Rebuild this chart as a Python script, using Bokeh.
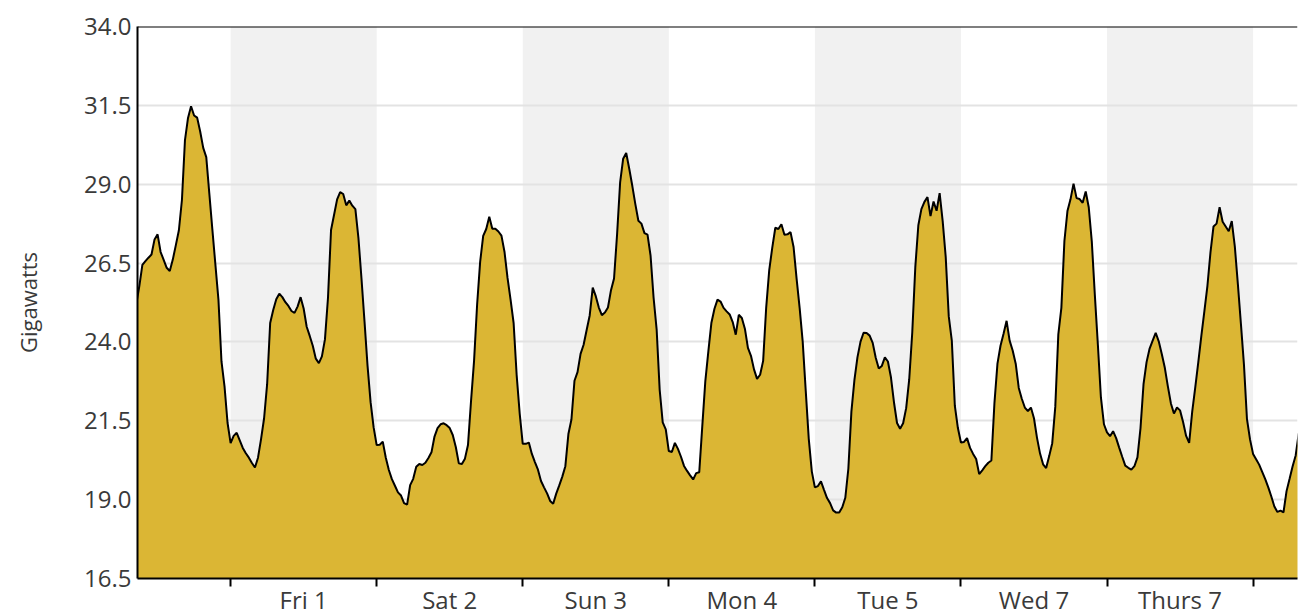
import numpy as np
from bokeh.plotting import figure
from bokeh.models import (FixedTicker, BoxAnnotation, Span, PrintfTickFormatter,
                          Range1d, ColumnDataSource, GlobalInlineStyleSheet)
from bokeh.embed import file_html
from bokeh.resources import INLINE

# ---- data ----
day_labels = ["Fri 1", "Sat 2", "Sun 3", "Mon 4", "Tue 5", "Wed 7", "Thurs 7"]
day_start_hours = [0, 24, 48, 72, 96, 120, 144, 168]
shaded_day_index = [0, 2, 4, 6]
y_ticks = [16.5, 19.0, 21.5, 24.0, 26.5, 29.0, 31.5, 34.0]

first_hour = -15.5   # half-hourly readings, hours from Fri 1 00:00
step_hours = 0.5
gigawatts = [
    25.20, 25.77, 26.44, 26.56, 26.67, 26.77, 27.25, 27.41, 26.85, 26.60,
    26.35, 26.25, 26.61, 27.07, 27.54, 28.50, 30.40, 31.10, 31.47, 31.18,
    31.11, 30.67, 30.15, 29.86, 28.71, 27.57, 26.45, 25.34, 23.38, 22.59,
    21.43, 20.79, 21.02, 21.12, 20.88, 20.64, 20.47, 20.33, 20.16, 20.02,
    20.33, 20.92, 21.58, 22.66, 24.60, 25.01, 25.35, 25.53, 25.42, 25.26,
    25.14, 24.98, 24.92, 25.12, 25.42, 25.06, 24.48, 24.19, 23.88, 23.47,
    23.33, 23.54, 24.08, 25.40, 27.55, 28.03, 28.52, 28.75, 28.69, 28.33,
    28.48, 28.32, 28.21, 27.30, 26.02, 24.65, 23.24, 22.09, 21.29, 20.73,
    20.74, 20.84, 20.33, 19.94, 19.65, 19.44, 19.23, 19.13, 18.89, 18.84,
    19.46, 19.66, 20.04, 20.13, 20.10, 20.17, 20.32, 20.50, 21.00, 21.27,
    21.39, 21.42, 21.36, 21.27, 21.05, 20.67, 20.15, 20.13, 20.30, 20.73,
    22.12, 23.40, 25.18, 26.54, 27.36, 27.58, 27.97, 27.59, 27.59, 27.50,
    27.37, 26.86, 26.03, 25.34, 24.60, 22.95, 21.73, 20.77, 20.77, 20.81,
    20.45, 20.19, 19.95, 19.59, 19.39, 19.20, 18.96, 18.87, 19.19, 19.45,
    19.73, 20.06, 21.08, 21.54, 22.77, 23.04, 23.62, 23.91, 24.38, 24.84,
    25.72, 25.45, 25.09, 24.85, 24.93, 25.09, 25.64, 26.01, 27.41, 29.06,
    29.81, 29.99, 29.49, 28.95, 28.37, 27.84, 27.75, 27.45, 27.40, 26.74,
    25.40, 24.40, 22.48, 21.45, 21.23, 20.54, 20.51, 20.80, 20.61, 20.36,
    20.07, 19.91, 19.77, 19.64, 19.84, 19.87, 21.33, 22.76, 23.71, 24.61,
    25.05, 25.34, 25.28, 25.08, 24.97, 24.87, 24.63, 24.23, 24.86, 24.76,
    24.42, 23.81, 23.56, 23.13, 22.83, 22.96, 23.40, 25.09, 26.28, 26.99,
    27.62, 27.58, 27.73, 27.40, 27.41, 27.48, 27.01, 26.00, 25.07, 24.01,
    22.45, 20.92, 19.89, 19.39, 19.43, 19.58, 19.31, 19.05, 18.89, 18.66,
    18.59, 18.59, 18.76, 19.06, 19.98, 21.79, 22.80, 23.52, 24.01, 24.29,
    24.28, 24.20, 23.97, 23.50, 23.16, 23.24, 23.51, 23.38, 22.88, 22.08,
    21.43, 21.25, 21.42, 21.90, 22.81, 24.30, 26.37, 27.70, 28.21, 28.44,
    28.59, 27.99, 28.45, 28.16, 28.72, 27.83, 26.69, 24.81, 24.04, 21.97,
    21.27, 20.81, 20.83, 20.95, 20.64, 20.45, 20.29, 19.81, 19.93, 20.06,
    20.17, 20.24, 22.05, 23.31, 23.88, 24.26, 24.67, 24.04, 23.73, 23.31,
    22.54, 22.20, 21.92, 21.81, 21.92, 21.58, 20.96, 20.46, 20.12, 20.00,
    20.38, 20.79, 21.94, 24.24, 25.08, 27.20, 28.15, 28.52, 29.02, 28.56,
    28.53, 28.41, 28.77, 28.27, 27.19, 25.49, 23.91, 22.24, 21.39, 21.13,
    21.01, 21.17, 20.95, 20.65, 20.36, 20.08, 20.01, 19.95, 20.06, 20.34,
    21.26, 22.66, 23.36, 23.79, 24.04, 24.29, 24.02, 23.62, 23.18, 22.59,
    22.05, 21.73, 21.92, 21.83, 21.46, 21.02, 20.80, 21.79, 22.56, 23.36,
    24.19, 24.98, 25.78, 26.84, 27.66, 27.75, 28.27, 27.81, 27.66, 27.51,
    27.83, 27.03, 25.84, 24.58, 23.29, 21.55, 20.91, 20.45, 20.28, 20.11,
    19.88, 19.65, 19.39, 19.10, 18.78, 18.61, 18.65, 18.60, 19.27, 19.66,
    20.06, 20.40, 21.10,
]

hours = first_hour + step_hours * np.arange(len(gigawatts))
src = ColumnDataSource(data=dict(t=hours, v=gigawatts))

FONT = "Open Sans"
TEXT = "#3a3a3a"

p = figure(frame_width=1160, frame_height=552,
           x_range=Range1d(-15.3, 175.3), y_range=Range1d(y_ticks[0], y_ticks[-1]),
           output_backend="svg", toolbar_location=None,
           min_border_left=137, min_border_right=1, min_border_top=26,
           min_border_bottom=36)
p.outline_line_color = None
p.background_fill_color = "white"
p.border_fill_color = "white"
p.stylesheets = [GlobalInlineStyleSheet(css="html, body { margin: 0; overflow: hidden; }")]

# alternating day shading
for d in shaded_day_index:
    p.add_layout(BoxAnnotation(left=day_start_hours[d], right=day_start_hours[d + 1],
                               fill_color="#f1f1f1", fill_alpha=1.0,
                               line_color=None, level="image"))

p.varea(x="t", y1=y_ticks[0], y2="v", source=src, fill_color="#dbb634")
p.line(x="t", y="v", source=src, line_color="black", line_width=2)

# top frame line
p.add_layout(Span(location=y_ticks[-1], dimension="width",
                  line_color="black", line_width=2))

# grids
p.xgrid.visible = False
p.ygrid.grid_line_color = "#e3e3e3"
p.ygrid.grid_line_width = 2

# y axis
ya = p.yaxis[0]
ya.ticker = FixedTicker(ticks=y_ticks)
ya.formatter = PrintfTickFormatter(format="%.1f")
ya.major_tick_out = 0
ya.major_tick_in = 0
ya.minor_tick_out = 0
ya.minor_tick_in = 0
ya.axis_line_color = "black"
ya.axis_line_width = 2
ya.major_label_standoff = 6
ya.major_label_text_font = FONT
ya.major_label_text_font_size = "24px"
ya.major_label_text_color = TEXT
ya.axis_label = "Gigawatts"
ya.axis_label_text_font = FONT
ya.axis_label_text_font_size = "22px"
ya.axis_label_text_font_style = "normal"
ya.axis_label_text_color = TEXT
ya.axis_label_standoff = 38

# x axis: ticks at day boundaries, day names centred between them
xa = p.xaxis[0]
centres = [s + 12 for s in day_start_hours[:-1]]
xa.ticker = FixedTicker(ticks=centres, minor_ticks=day_start_hours)
xa.major_label_overrides = {c: lab for c, lab in zip(centres, day_labels)}
xa.major_tick_out = 0
xa.major_tick_in = 0
xa.minor_tick_out = 8
xa.minor_tick_in = 0
xa.minor_tick_line_color = "black"
xa.minor_tick_line_width = 2
xa.axis_line_color = "black"
xa.axis_line_width = 2
xa.major_label_standoff = -4
xa.major_label_text_font = FONT
xa.major_label_text_font_size = "24px"
xa.major_label_text_color = TEXT

open("out.html", "w").write(file_html(p, INLINE))
